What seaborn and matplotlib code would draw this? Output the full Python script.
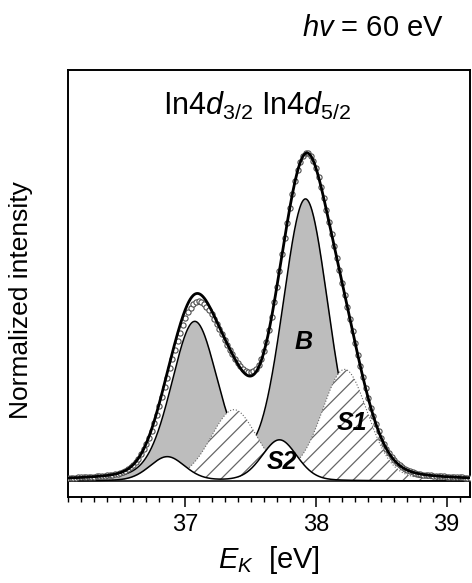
import numpy as np
import matplotlib
matplotlib.use("Agg")
import matplotlib.pyplot as plt
from matplotlib.ticker import MultipleLocator
import seaborn as sns

# fit components: kinetic energy (eV), height (max = 1), FWHM (eV)
bulk_pos = [37.07, 37.92]
bulk_height = [0.48, 0.86]
s1_pos = [37.37, 38.22]
s1_height = [0.215, 0.34]
s2_pos = [36.86, 37.72]
s2_height = [0.074, 0.126]
fwhm = {"B": 0.42, "S1": 0.42, "S2": 0.32}
lorentz_frac = 0.2

# measured points (open circles), 36.10 ... 39.18 eV in 0.02 eV steps
ek_start, ek_step = 36.10, 0.02
intensity = [
    0.009, 0.010, 0.010, 0.010, 0.011, 0.011, 0.011, 0.012, 0.012, 0.013,
    0.013, 0.014, 0.015, 0.015, 0.016, 0.017, 0.018, 0.020, 0.021, 0.023,
    0.025, 0.028, 0.032, 0.037, 0.043, 0.050, 0.059, 0.069, 0.082, 0.097,
    0.114, 0.133, 0.155, 0.178, 0.204, 0.231, 0.259, 0.288, 0.317, 0.346,
    0.375, 0.403, 0.430, 0.455, 0.478, 0.500, 0.518, 0.532, 0.543, 0.549,
    0.551, 0.549, 0.544, 0.535, 0.524, 0.511, 0.496, 0.481, 0.465, 0.450,
    0.434, 0.418, 0.403, 0.389, 0.375, 0.363, 0.353, 0.344, 0.338, 0.334,
    0.334, 0.337, 0.345, 0.357, 0.375, 0.399, 0.428, 0.464, 0.504, 0.549,
    0.596, 0.645, 0.695, 0.745, 0.793, 0.839, 0.882, 0.920, 0.953, 0.978,
    0.996, 1.005, 1.006, 0.998, 0.982, 0.960, 0.932, 0.901, 0.867, 0.831,
    0.794, 0.757, 0.720, 0.683, 0.646, 0.609, 0.572, 0.535, 0.498, 0.460,
    0.423, 0.387, 0.352, 0.318, 0.285, 0.254, 0.225, 0.199, 0.174, 0.152,
    0.132, 0.114, 0.099, 0.085, 0.073, 0.063, 0.055, 0.048, 0.042, 0.037,
    0.033, 0.030, 0.027, 0.025, 0.023, 0.021, 0.020, 0.019, 0.018, 0.017,
    0.016, 0.016, 0.015, 0.014, 0.014, 0.013, 0.013, 0.012, 0.012, 0.011,
    0.011, 0.011, 0.010, 0.010, 0.010,
]
energy = np.round(ek_start + ek_step * np.arange(len(intensity)), 2)


def pvoigt(x, x0, h, w, eta=lorentz_frac):
    g = np.exp(-4 * np.log(2) * ((x - x0) / w) ** 2)
    l = 1 / (1 + 4 * ((x - x0) / w) ** 2)
    return h * ((1 - eta) * g + eta * l)


def doublet(x, pos, height, w):
    return sum(pvoigt(x, p, h, w) for p, h in zip(pos, height))


sns.set_style("white")
plt.rcParams["font.family"] = ["Liberation Sans", "DejaVu Sans"]
plt.rcParams["mathtext.fontset"] = "custom"
plt.rcParams["mathtext.rm"] = "Liberation Sans"
plt.rcParams["mathtext.it"] = "Liberation Sans:italic"
plt.rcParams["hatch.linewidth"] = 0.9
plt.rcParams["text.color"] = "black"
plt.rcParams["axes.labelcolor"] = "black"
plt.rcParams["xtick.color"] = "black"

# fitted components on a fine energy grid
x = np.linspace(36.1, 39.18, 800)
b = doublet(x, bulk_pos, bulk_height, fwhm["B"])
s1 = doublet(x, s1_pos, s1_height, fwhm["S1"])
s2 = doublet(x, s2_pos, s2_height, fwhm["S2"])
total = b + s1 + s2

fig = plt.figure(figsize=(4.72, 5.83), dpi=100)
ax = fig.add_axes([68 / 472, 86 / 583, 402 / 472, 427 / 583])

ax.fill_between(x, 0, b, color="#bdbdbd", lw=0, zorder=1)
ax.plot(x, b, color="black", lw=1.1, zorder=1.5)
ax.fill_between(x, 0, s1, facecolor="white", edgecolor="0.4", hatch="//", lw=0, zorder=2)
ax.plot(x, s1, color="0.4", lw=0.8, ls=":", zorder=2.1)
ax.fill_between(x, 0, s2, color="white", lw=0, zorder=3)
ax.plot(x, s2, color="black", lw=1.1, zorder=3.1)
ax.axhline(0, color="black", lw=1.1, zorder=3.2)

sns.scatterplot(x=energy, y=intensity, ax=ax, s=14, marker="o", facecolor="white",
                edgecolor="0.3", linewidth=0.8, zorder=4)
sns.lineplot(x=x, y=total, ax=ax, color="black", lw=2.0, zorder=5)

ax.set_xlim(36.1, 39.18)
ax.set_ylim(-0.049, 1.261)
ax.set_xticks([37, 38, 39])
ax.xaxis.set_minor_locator(MultipleLocator(0.1))
ax.set_yticks([])
ax.tick_params(axis="x", which="major", direction="out", length=7, width=1.1,
               labelsize=17, pad=5, bottom=True, colors="black")
ax.tick_params(axis="x", which="minor", direction="out", length=3.5, width=1.0,
               bottom=True, colors="black")
for sp in ax.spines.values():
    sp.set_linewidth(1.4)
    sp.set_color("black")

ax.set_xlabel(r"$E_K$  [eV]", fontsize=21)
ax.xaxis.set_label_coords(0.5, -0.11)
ax.set_ylabel("Normalized intensity", fontsize=19)
ax.yaxis.set_label_coords(-0.087, 0.461)

ax.text(0.236, 0.895, r"In4$d_{3/2}$ In4$d_{5/2}$", transform=ax.transAxes,
        fontsize=22, ha="left", va="baseline")
ax.text(0.587, 0.363, "B", transform=ax.transAxes, fontsize=18,
        fontweight="bold", fontstyle="italic", ha="center", va="center", zorder=6)
ax.text(0.706, 0.173, "S1", transform=ax.transAxes, fontsize=18,
        fontweight="bold", fontstyle="italic", ha="center", va="center", zorder=6)
ax.text(0.532, 0.082, "S2", transform=ax.transAxes, fontsize=18,
        fontweight="bold", fontstyle="italic", ha="center", va="center", zorder=6)
fig.text(0.79, 0.952, r"$hv$ = 60 eV", fontsize=21, ha="center", va="center")

fig.savefig("out.png", dpi=100)
